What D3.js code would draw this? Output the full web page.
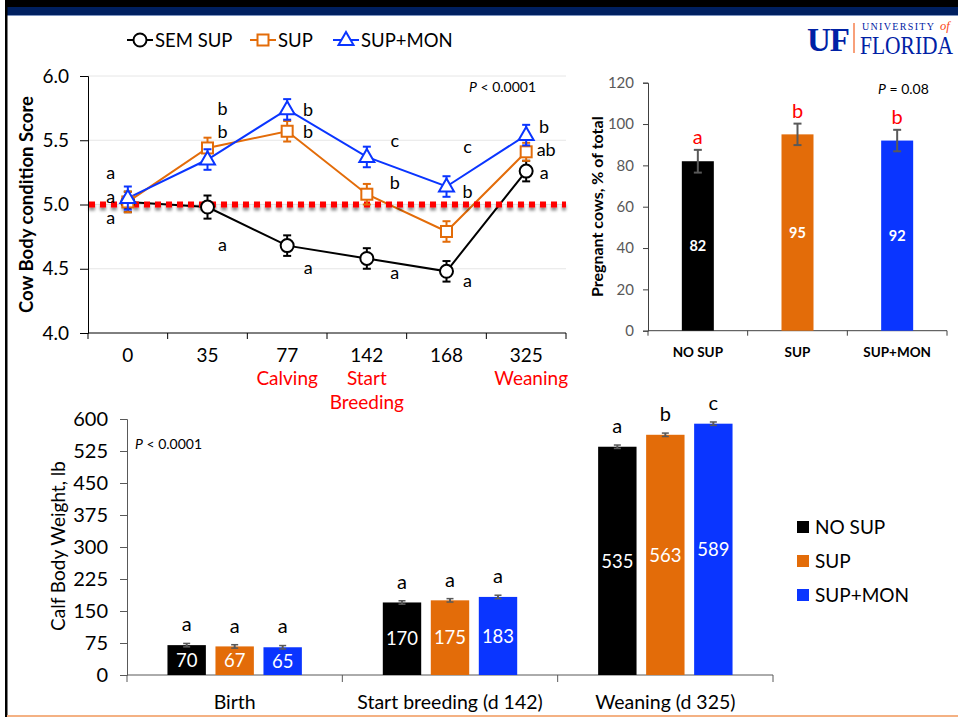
<!DOCTYPE html>
<html>
<head>
<meta charset="utf-8">
<script src="https://cdn.jsdelivr.net/npm/d3@7/dist/d3.min.js"></script>
<style>
  body { margin: 0; background: #fff; }
  svg { display: block; font-family: Lato, "Open Sans", sans-serif; }
</style>
</head>
<body>
<svg id="chart" width="958" height="717"></svg>
<script>
// ---------- data ----------
// Cow body condition score by day of study
const days = ["0", "35", "77", "142", "168", "325"];
const dayNotes = [
  { day: "77", lines: ["Calving"] },
  { day: "142", lines: ["Start", "Breeding"] },
  { day: "325", lines: ["Weaning"] }
];
const bcsSemSup = [5.02, 4.98, 4.68, 4.58, 4.48, 5.26];
const bcsSup    = [5.02, 5.44, 5.57, 5.08, 4.79, 5.41];
const bcsSupMon = [5.05, 5.35, 5.74, 5.37, 5.14, 5.54];
const bcsErrSemSup = [0.08, 0.09, 0.08, 0.08, 0.08, 0.08];
const bcsErrSup    = [0.08, 0.08, 0.08, 0.08, 0.08, 0.07];
const bcsErrSupMon = [0.09, 0.08, 0.08, 0.08, 0.08, 0.08];
const bcsTicks = [4.0, 4.5, 5.0, 5.5, 6.0];
const bcsThreshold = 5.0;
// significance letters: day, letter, score level where the letter sits
const bcsLetters = [
  ["0", "a", 5.25], ["0", "a", 5.06], ["0", "a", 4.90],
  ["35", "b", 5.75], ["35", "b", 5.57], ["35", "a", 4.69],
  ["77", "b", 5.74], ["77", "b", 5.57], ["77", "a", 4.51],
  ["142", "c", 5.50], ["142", "b", 5.17], ["142", "a", 4.47],
  ["168", "c", 5.45], ["168", "b", 5.10], ["168", "a", 4.41],
  ["325", "b", 5.61], ["325", "ab", 5.43], ["325", "a", 5.25]
];

// Pregnancy rate
const pregGroups = ["NO SUP", "SUP", "SUP+MON"];
const pregValues = [82, 95, 92];
const pregErr = [5.5, 5.2, 5.2];
const pregLetters = ["a", "b", "b"];
const pregTicks = [0, 20, 40, 60, 80, 100, 120];

// Calf body weight
const calfStages = ["Birth", "Start breeding (d 142)", "Weaning (d 325)"];
const calfTreatments = ["NO SUP", "SUP", "SUP+MON"];
const calfNoSup  = [70, 170, 535];
const calfSup    = [67, 175, 563];
const calfSupMon = [65, 183, 589];
const calfErr    = [4, 4, 4];
const calfLettersNoSup  = ["a", "a", "a"];
const calfLettersSup    = ["a", "a", "b"];
const calfLettersSupMon = ["a", "a", "c"];
const calfTicks = [0, 75, 150, 225, 300, 375, 450, 525, 600];

// ---------- styling ----------
const BLACK = "#000000", ORANGE = "#E36C09", BLUE = "#0A35FF";
const GREY = "#595959";

const svg = d3.select("#chart");

// page frame
svg.append("rect").attr("x", 5).attr("y", 0).attr("width", 953).attr("height", 7).attr("fill", "#000");
svg.append("rect").attr("x", 5).attr("y", 7).attr("width", 953).attr("height", 8).attr("fill", "#002060");
svg.append("rect").attr("x", 5).attr("y", 15).attr("width", 953).attr("height", 1).attr("fill", "#7d94c0");
svg.append("rect").attr("x", 5).attr("y", 0).attr("width", 2.5).attr("height", 717).attr("fill", "#000");
svg.append("rect").attr("x", 7).attr("y", 715).attr("width", 951).attr("height", 2).attr("fill", "#F4B183");

// university wordmark
const serif = "'Liberation Serif', 'DejaVu Serif', serif";
const logo = svg.append("g");
logo.append("text").attr("x", 807).attr("y", 51)
  .attr("font-family", serif).attr("font-weight", "bold").attr("font-size", 33)
  .attr("fill", "#0021A5").attr("letter-spacing", -1).text("UF");
logo.append("rect").attr("x", 853).attr("y", 23).attr("width", 2).attr("height", 30).attr("fill", "#F8A07A");
logo.append("text").attr("x", 862).attr("y", 30)
  .attr("font-family", serif).attr("font-size", 10).attr("fill", "#0021A5")
  .attr("textLength", 72).attr("lengthAdjust", "spacing")
  .text("UNIVERSITY");
logo.append("text").attr("x", 940).attr("y", 30)
  .attr("font-family", serif).attr("font-style", "italic").attr("font-size", 12.5).attr("fill", "#FA4616")
  .text("of");
logo.append("text").attr("transform", "translate(860,54) scale(0.86,1)")
  .attr("font-family", serif).attr("font-size", 25).attr("fill", "#0021A5")
  .text("FLORIDA");

// ---------- marker helpers ----------
function drawMarker(g, shape, x, y, color) {
  if (shape === "circle") {
    g.append("circle").attr("cx", x).attr("cy", y).attr("r", 6.5)
      .attr("fill", "#fff").attr("stroke", color).attr("stroke-width", 2);
  } else if (shape === "square") {
    g.append("rect").attr("x", x - 5.5).attr("y", y - 5.5).attr("width", 11).attr("height", 11)
      .attr("fill", "#fff").attr("stroke", color).attr("stroke-width", 2);
  } else {
    const s = 15, h = s * Math.sqrt(3) / 2;
    g.append("path")
      .attr("d", `M${x},${y - h * 0.62}L${x + s / 2},${y + h * 0.38}L${x - s / 2},${y + h * 0.38}Z`)
      .attr("fill", "#fff").attr("stroke", color).attr("stroke-width", 2).attr("stroke-linejoin", "miter");
  }
}

// ---------- top legend ----------
const lineSeries = [
  { name: "SEM SUP", values: bcsSemSup, err: bcsErrSemSup, color: BLACK, shape: "circle" },
  { name: "SUP", values: bcsSup, err: bcsErrSup, color: ORANGE, shape: "square" },
  { name: "SUP+MON", values: bcsSupMon, err: bcsErrSupMon, color: BLUE, shape: "triangle" }
];
const legTop = svg.append("g").attr("transform", "translate(0,40)");
const legX = [127, 250, 333];
lineSeries.forEach((s, i) => {
  const x0 = legX[i];
  legTop.append("line").attr("x1", x0).attr("x2", x0 + 26).attr("y1", 0).attr("y2", 0)
    .attr("stroke", s.color).attr("stroke-width", 2);
  drawMarker(legTop, s.shape, x0 + 13, 0, s.color);
  legTop.append("text").attr("x", x0 + 28).attr("y", 0).attr("dy", "0.36em")
    .attr("font-size", 18.5).attr("fill", "#000").text(s.name);
});

// ---------- chart 1: cow body condition score ----------
const xL = d3.scaleBand().domain(days).range([88, 566]);
const yL = d3.scaleLinear().domain([4, 6]).range([333, 76]);
const cx = d => xL(d) + xL.bandwidth() / 2;
const g1 = svg.append("g");

// gridlines
g1.append("g").selectAll("line").data(bcsTicks.filter(t => t > 4)).join("line")
  .attr("x1", 88).attr("x2", 566).attr("y1", d => yL(d)).attr("y2", d => yL(d))
  .attr("stroke", "#e6e6e6").attr("stroke-width", 1);

// y axis
const yAxis1 = g1.append("g").attr("transform", "translate(88,0)")
  .call(d3.axisLeft(yL).tickValues(bcsTicks).tickFormat(d3.format(".1f")).tickSize(8).tickPadding(11));
yAxis1.select(".domain").attr("stroke", "#000");
yAxis1.selectAll(".tick line").attr("stroke", "#000");
yAxis1.selectAll(".tick text").attr("font-size", 19).attr("font-family", "Lato, sans-serif").attr("fill", "#000");

// x axis: ticks on category boundaries, labels centred
g1.append("line").attr("x1", 88).attr("x2", 566).attr("y1", yL(4)).attr("y2", yL(4)).attr("stroke", "#000");
const bounds1 = days.map(d => xL(d)).concat([xL(days[days.length - 1]) + xL.bandwidth()]);
g1.append("g").selectAll("line").data(bounds1).join("line")
  .attr("x1", d => d).attr("x2", d => d).attr("y1", yL(4)).attr("y2", yL(4) + 6).attr("stroke", "#000");
g1.append("g").selectAll("text").data(days).join("text")
  .attr("x", d => cx(d)).attr("y", 355).attr("dy", "0.36em").attr("text-anchor", "middle")
  .attr("font-size", 19).attr("fill", "#000").text(d => d);
dayNotes.forEach(n => {
  n.lines.forEach((t, j) => {
    g1.append("text").attr("x", cx(n.day) + (n.day === "325" ? 5 : 0)).attr("y", 378 + j * 24)
      .attr("dy", "0.36em").attr("text-anchor", "middle")
      .attr("font-size", 19).attr("fill", "#FF0000").text(t);
  });
});

// y title
g1.append("text").attr("transform", `translate(26,${(yL(4) + yL(6)) / 2}) rotate(-90)`)
  .attr("text-anchor", "middle").attr("dy", "0.36em")
  .attr("font-size", 18.5).attr("font-weight", "bold").attr("fill", "#000")
  .text("Cow Body condition Score");

// threshold line shadow filter
const defs = svg.append("defs");
const f = defs.append("filter").attr("id", "shadow").attr("filterUnits", "userSpaceOnUse")
  .attr("x", 70).attr("y", yL(bcsThreshold) - 20).attr("width", 520).attr("height", 40);
f.append("feGaussianBlur").attr("in", "SourceAlpha").attr("stdDeviation", 1.6).attr("result", "b");
f.append("feOffset").attr("in", "b").attr("dy", 3).attr("result", "o");
f.append("feComponentTransfer").attr("in", "o").attr("result", "s")
  .append("feFuncA").attr("type", "linear").attr("slope", 0.45);
const fm = f.append("feMerge");
fm.append("feMergeNode").attr("in", "s");
fm.append("feMergeNode").attr("in", "SourceGraphic");

// series lines
const lineGen = d3.line().x((d, i) => cx(days[i])).y(d => yL(d));
lineSeries.forEach(s => {
  g1.append("path").datum(s.values).attr("d", lineGen)
    .attr("fill", "none").attr("stroke", s.color).attr("stroke-width", 2);
});

// red dotted threshold at score 5.0
g1.append("line").attr("x1", 89).attr("x2", 566)
  .attr("y1", yL(bcsThreshold)).attr("y2", yL(bcsThreshold))
  .attr("stroke", "#FF0000").attr("stroke-width", 6).attr("stroke-dasharray", "6,5")
  .attr("filter", "url(#shadow)");

// error bars and markers
lineSeries.forEach(s => {
  const gs = g1.append("g");
  s.values.forEach((v, i) => {
    const x = cx(days[i]);
    const y0 = yL(v - s.err[i]), y1 = yL(v + s.err[i]);
    gs.append("line").attr("x1", x).attr("x2", x).attr("y1", y0).attr("y2", y1)
      .attr("stroke", s.color).attr("stroke-width", 2);
    [y0, y1].forEach(yy => gs.append("line").attr("x1", x - 4).attr("x2", x + 4)
      .attr("y1", yy).attr("y2", yy).attr("stroke", s.color).attr("stroke-width", 2));
  });
  s.values.forEach((v, i) => drawMarker(gs, s.shape, cx(days[i]), yL(v), s.color));
});

// significance letters
const letterNudge = { "0": -17, "35": 15, "77": 21, "142": 28, "168": 21, "325": 18 };
g1.append("g").selectAll("text").data(bcsLetters).join("text")
  .attr("x", d => cx(d[0]) + letterNudge[d[0]] + (d[1] === "ab" ? 2 : 0))
  .attr("y", d => yL(d[2])).attr("dy", "0.36em").attr("text-anchor", "middle")
  .attr("font-size", 18).attr("fill", "#000").text(d => d[1]);

// P value
const p1 = g1.append("text").attr("x", 469).attr("y", 87).attr("dy", "0.36em")
  .attr("font-size", 14).attr("fill", "#000");
p1.append("tspan").attr("font-style", "italic").text("P");
p1.append("tspan").text(" < 0.0001");

// ---------- chart 2: pregnancy rate ----------
const g2 = svg.append("g");
const xP = d3.scaleBand().domain(pregGroups).range([648, 947]);
const yP = d3.scaleLinear().domain([0, 120]).range([330.7, 82.7]);
const pregColors = [BLACK, ORANGE, BLUE];
const barW2 = 32;

const yAxis2 = g2.append("g").attr("transform", "translate(648,0)")
  .call(d3.axisLeft(yP).tickValues(pregTicks).tickSize(5).tickPadding(9));
yAxis2.select(".domain").attr("stroke", "#404040");
yAxis2.selectAll(".tick line").attr("stroke", "#404040");
yAxis2.selectAll(".tick text").attr("font-size", 15).attr("font-family", "Lato, sans-serif").attr("fill", GREY);

g2.append("line").attr("x1", 648).attr("x2", 947).attr("y1", yP(0)).attr("y2", yP(0)).attr("stroke", "#404040");
const bounds2 = pregGroups.map(d => xP(d)).concat([947]);
g2.append("g").selectAll("line").data(bounds2).join("line")
  .attr("x1", d => d).attr("x2", d => d).attr("y1", yP(0)).attr("y2", yP(0) + 5).attr("stroke", "#404040");

const pc = d => xP(d) + xP.bandwidth() / 2;
pregGroups.forEach((gname, i) => {
  const x = pc(gname), v = pregValues[i];
  g2.append("rect").attr("x", x - barW2 / 2).attr("y", yP(v)).attr("width", barW2)
    .attr("height", yP(0) - yP(v)).attr("fill", pregColors[i]);
  const e0 = yP(v - pregErr[i]), e1 = yP(v + pregErr[i]);
  g2.append("line").attr("x1", x).attr("x2", x).attr("y1", e0).attr("y2", e1).attr("stroke", GREY).attr("stroke-width", 2);
  [e0, e1].forEach(yy => g2.append("line").attr("x1", x - 4).attr("x2", x + 4).attr("y1", yy).attr("y2", yy)
    .attr("stroke", GREY).attr("stroke-width", 2));
  g2.append("text").attr("x", x).attr("y", e1 - 13).attr("dy", "0.36em").attr("text-anchor", "middle")
    .attr("font-size", 20).attr("fill", "#FF0000").text(pregLetters[i]);
  g2.append("text").attr("x", x).attr("y", yP(v / 2)).attr("dy", "0.36em").attr("text-anchor", "middle")
    .attr("font-size", 14.5).attr("font-weight", "bold").attr("fill", "#fff").text(v);
  g2.append("text").attr("x", x).attr("y", 352).attr("dy", "0.36em").attr("text-anchor", "middle")
    .attr("font-size", 13.5).attr("font-weight", "bold").attr("fill", "#000").text(gname);
});
g2.append("text").attr("transform", `translate(597,${(yP(0) + yP(120)) / 2}) rotate(-90)`)
  .attr("text-anchor", "middle").attr("dy", "0.36em")
  .attr("font-size", 16).attr("font-weight", "bold").attr("fill", "#000")
  .text("Pregnant cows, % of total");
const p2 = g2.append("text").attr("x", 878).attr("y", 89).attr("dy", "0.36em")
  .attr("font-size", 14).attr("fill", "#000");
p2.append("tspan").attr("font-style", "italic").text("P");
p2.append("tspan").text(" = 0.08");

// ---------- chart 3: calf body weight ----------
const g3 = svg.append("g");
const xC = d3.scaleBand().domain(calfStages).range([127, 773]);
const xCi = d3.scaleBand().domain(calfTreatments).range([-72, 72]).paddingInner(0.2).paddingOuter(0.1);
const yC = d3.scaleLinear().domain([0, 600]).range([675, 419]);
const calfSeries = [
  { name: "NO SUP", values: calfNoSup, letters: calfLettersNoSup, color: BLACK },
  { name: "SUP", values: calfSup, letters: calfLettersSup, color: ORANGE },
  { name: "SUP+MON", values: calfSupMon, letters: calfLettersSupMon, color: BLUE }
];

const yAxis3 = g3.append("g").attr("transform", "translate(127,0)")
  .call(d3.axisLeft(yC).tickValues(calfTicks).tickSize(7).tickPadding(12));
yAxis3.select(".domain").attr("stroke", GREY);
yAxis3.selectAll(".tick line").attr("stroke", GREY);
yAxis3.selectAll(".tick text").attr("font-size", 20).attr("font-family", "Lato, sans-serif").attr("fill", "#000");

g3.append("line").attr("x1", 127).attr("x2", 773).attr("y1", yC(0)).attr("y2", yC(0)).attr("stroke", GREY);
const bounds3 = calfStages.map(d => xC(d)).concat([773]);
g3.append("g").selectAll("line").data(bounds3).join("line")
  .attr("x1", d => d).attr("x2", d => d).attr("y1", yC(0)).attr("y2", yC(0) + 7).attr("stroke", GREY);
g3.append("g").selectAll("text").data(calfStages).join("text")
  .attr("x", d => xC(d) + xC.bandwidth() / 2).attr("y", 702).attr("dy", "0.36em")
  .attr("text-anchor", "middle").attr("font-size", 19.5).attr("fill", "#000").text(d => d);

calfSeries.forEach(s => {
  calfStages.forEach((stage, i) => {
    const gc = xC(stage) + xC.bandwidth() / 2;
    const x = gc + xCi(s.name), w = xCi.bandwidth(), v = s.values[i];
    const mid = x + w / 2;
    g3.append("rect").attr("x", x).attr("y", yC(v)).attr("width", w)
      .attr("height", yC(0) - yC(v)).attr("fill", s.color);
    const e0 = yC(v - calfErr[i]), e1 = yC(v + calfErr[i]);
    g3.append("line").attr("x1", mid).attr("x2", mid).attr("y1", e0).attr("y2", e1).attr("stroke", GREY).attr("stroke-width", 2);
    [e0, e1].forEach(yy => g3.append("line").attr("x1", mid - 3.5).attr("x2", mid + 3.5).attr("y1", yy).attr("y2", yy)
      .attr("stroke", GREY).attr("stroke-width", 1.5));
    g3.append("text").attr("x", mid).attr("y", yC(v) - 21).attr("dy", "0.36em").attr("text-anchor", "middle")
      .attr("font-size", 20).attr("fill", "#000").text(s.letters[i]);
    g3.append("text").attr("x", mid).attr("y", yC(v / 2)).attr("dy", "0.36em").attr("text-anchor", "middle")
      .attr("font-size", 18.5).attr("fill", "#fff").text(v);
  });
});

g3.append("text").attr("transform", `translate(58,${(yC(0) + yC(600)) / 2 - 1}) rotate(-90)`)
  .attr("text-anchor", "middle").attr("dy", "0.36em")
  .attr("font-size", 19).attr("fill", "#000").text("Calf Body Weight, lb");
const p3 = g3.append("text").attr("x", 135).attr("y", 444).attr("dy", "0.36em")
  .attr("font-size", 14).attr("fill", "#000");
p3.append("tspan").attr("font-style", "italic").text("P");
p3.append("tspan").text(" < 0.0001");

// legend
const leg3 = svg.append("g");
calfSeries.forEach((s, i) => {
  const y = 527 + i * 34;
  leg3.append("rect").attr("x", 797).attr("y", y - 6).attr("width", 12).attr("height", 12).attr("fill", s.color);
  leg3.append("text").attr("x", 815).attr("y", y).attr("dy", "0.36em")
    .attr("font-size", 19).attr("fill", "#000").text(s.name);
});
</script>
</body>
</html>
